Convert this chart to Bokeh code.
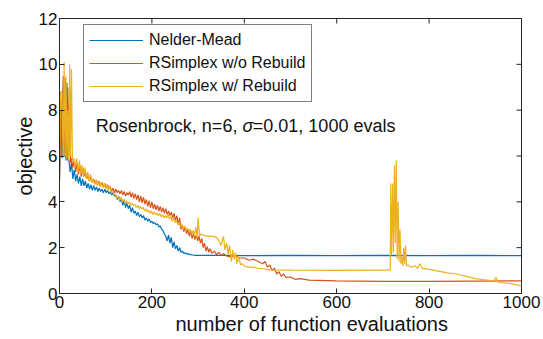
from bokeh.plotting import figure
from bokeh.models import Range1d, FixedTicker, Legend, LegendItem, Label, Title
from bokeh.embed import file_html
from bokeh.resources import INLINE

# ---- data (evaluation, objective) ----
nelder_mead = [
    (0, 5.0), (4, 8.0), (6, 5.9), (8, 9.0), (10, 6.0), (12, 9.4), (14, 5.8), (16, 9.2), (18, 5.8),
    (20, 5.9), (23, 5.3), (26, 5.7), (29, 5.0), (32, 5.4), (35, 4.9), (38, 5.2), (41, 4.8), (44, 5.1),
    (47, 4.7), (50, 5.0), (53, 4.7), (56, 4.9), (59, 4.6), (62, 4.8), (65, 4.55), (68, 4.75), (71, 4.5),
    (74, 4.7), (77, 4.5), (80, 4.65), (83, 4.45), (86, 4.6), (89, 4.45), (92, 4.55), (95, 4.4),
    (98, 4.55), (101, 4.4), (104, 4.5), (107, 4.35), (110, 4.45), (113, 4.3), (116, 4.4), (119, 4.25),
    (122, 4.3), (125, 4.1), (128, 4.25), (131, 4.0), (134, 4.15), (137, 3.85), (140, 4.1), (143, 3.75),
    (146, 3.95), (149, 3.7), (152, 3.85), (155, 3.55), (158, 3.75), (161, 3.5), (164, 3.6), (167, 3.4),
    (170, 3.55), (173, 3.35), (176, 3.45), (179, 3.3), (182, 3.4), (185, 3.2), (188, 3.3), (191, 3.15),
    (194, 3.25), (197, 3.1), (200, 3.15), (203, 3.05), (206, 3.1), (209, 3.0), (212, 3.05), (215, 2.9),
    (218, 2.95), (221, 2.8), (224, 2.75), (227, 2.6), (230, 2.5), (233, 2.3), (236, 2.55), (239, 2.2),
    (242, 2.45), (245, 2.0), (248, 2.25), (251, 1.95), (254, 2.1), (257, 1.85), (260, 2.0), (263, 1.8),
    (266, 1.85), (269, 1.75), (272, 1.78), (275, 1.72), (278, 1.74), (281, 1.7), (284, 1.7), (287, 1.68),
    (290, 1.68), (293, 1.66), (296, 1.66), (350, 1.66), (400, 1.65), (500, 1.66), (600, 1.65),
    (700, 1.66), (800, 1.65), (900, 1.66), (1000, 1.65)]

rsimplex_no_rebuild = [
    (0, 5.0), (3, 8.5), (5, 6.0), (8, 9.5), (10, 6.2), (13, 8.0), (15, 5.9), (18, 9.0), (20, 6.0),
    (22, 8.9), (24, 5.7), (26, 5.9), (29, 5.5), (32, 5.8), (35, 5.3), (38, 5.7), (41, 5.2), (44, 5.6),
    (47, 5.1), (50, 5.5), (53, 5.1), (56, 5.3), (59, 5.0), (62, 5.2), (65, 4.9), (68, 5.1), (71, 4.85),
    (74, 5.0), (77, 4.8), (80, 4.95), (83, 4.75), (86, 4.9), (89, 4.7), (92, 4.85), (95, 4.65),
    (98, 4.8), (101, 4.6), (104, 4.75), (107, 4.55), (110, 4.65), (113, 4.45), (116, 4.6), (119, 4.4),
    (122, 4.55), (125, 4.4), (128, 4.5), (131, 4.35), (134, 4.5), (137, 4.3), (140, 4.45), (143, 4.25),
    (146, 4.4), (149, 4.3), (152, 4.45), (155, 4.2), (158, 4.4), (161, 4.15), (164, 4.35), (167, 4.1),
    (170, 4.3), (173, 4.0), (176, 4.25), (179, 3.95), (182, 4.2), (185, 3.9), (188, 4.1), (191, 3.8),
    (194, 4.05), (197, 3.75), (200, 4.0), (203, 3.7), (206, 3.9), (209, 3.65), (212, 3.85), (215, 3.6),
    (218, 3.8), (221, 3.55), (224, 3.75), (227, 3.5), (230, 3.7), (233, 3.45), (236, 3.6), (239, 3.4),
    (242, 3.55), (245, 3.3), (248, 3.5), (251, 3.2), (254, 3.4), (257, 3.0), (260, 3.3), (263, 2.8),
    (266, 3.0), (269, 2.7), (272, 2.9), (275, 2.6), (278, 2.8), (281, 2.5), (284, 2.75), (287, 2.4),
    (290, 2.65), (293, 2.35), (296, 2.55), (299, 2.3), (302, 2.5), (305, 2.2), (308, 2.4), (311, 2.0),
    (314, 2.2), (317, 1.85), (320, 2.05), (323, 1.8), (326, 1.95), (330, 1.75), (335, 1.85), (340, 1.7),
    (345, 1.8), (350, 1.65), (355, 1.75), (360, 1.65), (370, 1.6), (380, 1.65), (390, 1.55), (400, 1.55),
    (410, 1.45), (420, 1.5), (430, 1.4), (440, 1.3), (445, 1.4), (450, 1.15), (455, 1.25), (460, 1.0),
    (465, 1.1), (470, 0.85), (475, 0.95), (480, 0.75), (485, 0.85), (490, 0.7), (500, 0.72), (510, 0.62),
    (520, 0.65), (540, 0.58), (560, 0.57), (600, 0.55), (700, 0.53), (800, 0.53), (900, 0.54),
    (1000, 0.55)]

rsimplex_rebuild = [
    (0, 4.8), (2, 8.8), (5, 8.8), (8, 6.0), (10, 10.1), (12, 6.0), (14, 9.5), (16, 5.9), (18, 8.0),
    (20, 5.8), (22, 10.0), (24, 6.0), (26, 9.8), (28, 5.8), (31, 5.9), (34, 5.5), (37, 5.9), (40, 5.3),
    (43, 5.8), (46, 5.2), (49, 5.6), (52, 5.1), (55, 5.5), (58, 5.0), (61, 5.3), (64, 4.9), (67, 5.2),
    (70, 4.85), (73, 5.0), (76, 4.75), (79, 4.95), (82, 4.7), (85, 4.9), (88, 4.65), (91, 4.85),
    (94, 4.6), (97, 4.8), (100, 4.55), (103, 4.75), (106, 4.5), (109, 4.7), (112, 4.4), (115, 4.5),
    (118, 4.3), (121, 4.35), (124, 4.15), (127, 4.25), (130, 4.05), (133, 4.2), (136, 4.0), (139, 4.1),
    (142, 3.95), (145, 4.05), (148, 3.9), (151, 4.0), (154, 3.85), (157, 3.95), (160, 3.85), (163, 3.9),
    (166, 3.75), (169, 3.85), (172, 3.7), (175, 3.8), (178, 3.7), (181, 3.75), (184, 3.6), (187, 3.7),
    (190, 3.55), (193, 3.65), (196, 3.5), (199, 3.6), (202, 3.45), (205, 3.55), (208, 3.45), (211, 3.5),
    (214, 3.4), (217, 3.5), (220, 3.35), (223, 3.45), (226, 3.3), (229, 3.4), (232, 3.3), (235, 3.45),
    (238, 3.25), (241, 3.35), (244, 3.15), (247, 3.3), (250, 3.1), (253, 3.2), (256, 3.0), (259, 3.1),
    (262, 2.9), (265, 3.0), (268, 2.8), (271, 2.95), (274, 2.75), (277, 2.85), (280, 2.7), (283, 2.8),
    (286, 2.6), (289, 2.75), (292, 2.5), (295, 2.9), (298, 2.4), (300, 3.3), (303, 2.5), (306, 2.6),
    (310, 2.55), (320, 2.5), (330, 2.5), (340, 2.45), (345, 2.3), (350, 2.1), (355, 2.5), (358, 1.9),
    (362, 2.2), (365, 1.7), (368, 2.1), (372, 1.4), (375, 1.9), (378, 1.5), (381, 1.8), (384, 1.3),
    (388, 1.6), (392, 1.25), (396, 1.3), (400, 1.2), (410, 1.15), (420, 1.15), (430, 1.1), (440, 1.08),
    (450, 1.05), (460, 1.03), (500, 1.02), (600, 1.01), (700, 1.02), (716, 1.02), (717, 4.8), (719, 1.7),
    (721, 4.8), (723, 1.8), (725, 5.6), (727, 2.2), (729, 5.8), (731, 1.5), (733, 4.0), (735, 1.4),
    (737, 2.8), (739, 1.3), (741, 1.6), (743, 1.2), (745, 2.0), (747, 1.3), (749, 2.1), (751, 1.2),
    (755, 1.25), (760, 1.15), (770, 1.2), (775, 1.1), (780, 1.3), (785, 1.1), (800, 1.05), (820, 0.98),
    (840, 0.9), (860, 0.85), (880, 0.75), (900, 0.65), (920, 0.6), (940, 0.55), (945, 0.7), (950, 0.48),
    (970, 0.45), (990, 0.38), (1000, 0.32)]

nm_x = [a for a, b in nelder_mead]
nm_y = [b for a, b in nelder_mead]
rs_x = [a for a, b in rsimplex_no_rebuild]
rs_y = [b for a, b in rsimplex_no_rebuild]
rb_x = [a for a, b in rsimplex_rebuild]
rb_y = [b for a, b in rsimplex_rebuild]

series_names = ["Nelder-Mead", "RSimplex w/o Rebuild", "RSimplex w/ Rebuild"]
x_ticks = [0, 200, 400, 600, 800, 1000]
y_ticks = [0, 2, 4, 6, 8, 10, 12]
x_label = "number of function evaluations"
y_label = "objective"

FONT = "Liberation Sans"
AX = "#262626"
FW, FH = 462, 275
X0, X1, Y0, Y1 = 0, 1000, 0, 12

p = figure(frame_width=FW, frame_height=FH, output_backend="svg", toolbar_location=None,
           x_range=Range1d(X0, X1), y_range=Range1d(Y0, Y1),
           min_border_left=59, min_border_right=22, min_border_top=18, min_border_bottom=46,
           y_axis_label=y_label)
p.xgrid.visible = False
p.ygrid.visible = False
p.outline_line_color = AX
p.outline_line_width = 1
p.background_fill_color = "white"
p.border_fill_color = "white"

for ax in (p.xaxis[0], p.yaxis[0]):
    ax.major_tick_in = 5
    ax.major_tick_out = 0
    ax.minor_tick_line_color = None
    ax.axis_line_color = AX
    ax.major_tick_line_color = AX
    ax.major_label_text_font = FONT
    ax.major_label_text_font_size = "17px"
    ax.major_label_text_color = "#111111"
    ax.axis_label_text_font = FONT
    ax.axis_label_text_font_size = "20px"
    ax.axis_label_text_font_style = "normal"
    ax.axis_label_text_color = "#111111"
    ax.major_label_standoff = 2
    ax.axis_label_standoff = 0
p.xaxis[0].ticker = FixedTicker(ticks=x_ticks)
p.yaxis[0].ticker = FixedTicker(ticks=y_ticks)

# x-axis title below the axis, placed where the reference has it
xt = Title(text=x_label, align="left", offset=116, standoff=0,
           text_font=FONT, text_font_size="20px", text_font_style="normal",
           text_color="#111111")
p.add_layout(xt, "below")

# mirrored inward ticks on the top and right edges of the box (MATLAB "box on")
tick_len_y = 5 * (Y1 - Y0) / FH
tick_len_x = 5 * (X1 - X0) / FW
p.segment(x0=x_ticks, y0=[Y1] * len(x_ticks), x1=x_ticks, y1=[Y1 - tick_len_y] * len(x_ticks),
          line_color=AX, line_width=1)
p.segment(x0=[X1] * len(y_ticks), y0=y_ticks, x1=[X1 - tick_len_x] * len(y_ticks), y1=y_ticks,
          line_color=AX, line_width=1)

colors = ["#0072BD", "#D95319", "#EDB120"]
r1 = p.line(nm_x, nm_y, line_color=colors[0], line_width=1.2)
r2 = p.line(rs_x, rs_y, line_color=colors[1], line_width=1.2)
r3 = p.line(rb_x, rb_y, line_color=colors[2], line_width=1.2)

legend = Legend(items=[LegendItem(label=series_names[0], renderers=[r1]),
                       LegendItem(label=series_names[1], renderers=[r2]),
                       LegendItem(label=series_names[2], renderers=[r3])],
                location=(24, 191))
legend.label_text_font = FONT
legend.label_text_font_size = "16px"
legend.label_text_color = "#111111"
legend.border_line_color = "black"
legend.border_line_width = 1
legend.background_fill_color = "white"
legend.background_fill_alpha = 1
legend.glyph_width = 54
legend.glyph_height = 20
legend.label_height = 20
legend.label_standoff = 6
legend.spacing = 3
legend.padding = 5
legend.margin = 0
p.add_layout(legend, "center")

ann_x = 78.6
ann_y = 7.3
parts = ["Rosenbrock, n=6,", "\u03c3", "=0.01, 1000 evals"]
offsets = [0, 146.6, 157.0]
styles = ["normal", "italic", "normal"]
for txt, off, st in zip(parts, offsets, styles):
    p.add_layout(Label(x=ann_x, y=ann_y, x_offset=off, text=txt, text_font=FONT,
                       text_font_size="18px", text_font_style=st, text_color="#111111",
                       text_baseline="middle"))

open("out.html", "w").write(file_html(p, INLINE))
